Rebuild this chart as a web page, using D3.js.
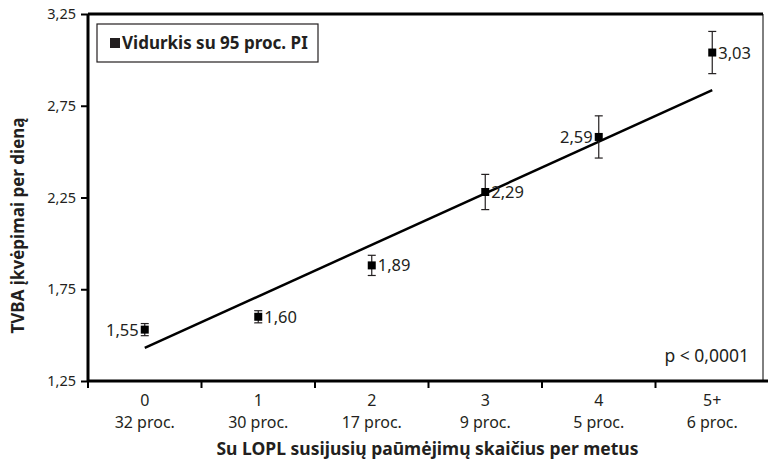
<!DOCTYPE html>
<html><head><meta charset="utf-8">
<script src="https://cdn.jsdelivr.net/npm/d3@7"></script>
<style>body{margin:0;background:#fff}svg{display:block}text{font-family:"Noto Sans",sans-serif;fill:#231f20}</style>
</head><body><svg id="c" width="768" height="466"></svg>
<script>
const categories = ["0","1","2","3","4","5+"];
const shares = ["32 proc.","30 proc.","17 proc.","9 proc.","5 proc.","6 proc."];
const means = [1.55,1.60,1.89,2.29,2.59,3.03];
const pointY = [1.53,1.60,1.88,2.28,2.58,3.04];
const errHalf = [0.033,0.033,0.055,0.096,0.115,0.115];
const labelSide = ["left","right","right","right","left","right"];
const trendLine = [{c:"0",v:1.43},{c:"5+",v:2.835}];
const yTicks = [1.25,1.75,2.25,2.75,3.25];

const svg = d3.select("#c");
const L=88, R=769, T=14, B=381;
const x = d3.scaleBand().domain(categories).range([L,R]);
const y = d3.scaleLinear().domain([1.25,3.25]).range([B,T]);
const cx = c => x(c)+x.bandwidth()/2;
const fmt = v => d3.format(".2f")(v).replace(".",",");

// frame
svg.append("line").attr("x1",L).attr("x2",763).attr("y1",T).attr("y2",T).attr("stroke","#000").attr("stroke-width",3);
svg.append("line").attr("x1",763).attr("x2",763).attr("y1",T).attr("y2",B).attr("stroke","#000").attr("stroke-width",1);

// y axis
const ya = svg.append("g").attr("transform",`translate(${L},0)`).call(d3.axisLeft(y).tickValues(yTicks).tickSize(7).tickPadding(5).tickFormat(fmt));
ya.select(".domain").attr("stroke-width",3).attr("d",`M0,${T}V${B}`);
ya.selectAll(".tick line").attr("stroke-width",2);
ya.selectAll("text").style("font-size","14.5px").style("font-family","'Noto Sans',sans-serif").attr("fill","#231f20");

// x axis
const xa = svg.append("g").attr("transform",`translate(0,${B})`);
xa.append("line").attr("x1",L-1).attr("x2",R).attr("y1",0).attr("y2",0).attr("stroke","#000").attr("stroke-width",3);
const edges = categories.map(c=>x(c));
xa.selectAll(".tk").data(edges).join("line").attr("x1",d=>d).attr("x2",d=>d).attr("y1",0).attr("y2",7).attr("stroke","#000").attr("stroke-width",2);
xa.selectAll(".cat").data(categories).join("text").attr("x",d=>cx(d)).attr("y",25).attr("text-anchor","middle").style("font-size","16px").text(d=>d);
xa.selectAll(".sh").data(shares).join("text").attr("x",(d,i)=>cx(categories[i])).attr("y",47).attr("text-anchor","middle").style("font-size","16px").text(d=>d);

// axis titles
svg.append("text").attr("x",(L+R)/2-1).attr("y",455).attr("text-anchor","middle").style("font-size","17.5px").style("font-weight","bold").text("Su LOPL susijusių paūmėjimų skaičius per metus");
svg.append("text").attr("transform",`translate(24,${(T+B)/2+28}) rotate(-90)`).attr("text-anchor","middle").style("font-size","17px").style("font-weight","bold").text("TVBA įkvėpimai per dieną");

// trend line
svg.append("line").attr("x1",cx(trendLine[0].c)).attr("y1",y(trendLine[0].v)).attr("x2",cx(trendLine[1].c)).attr("y2",y(trendLine[1].v)).attr("stroke","#000").attr("stroke-width",2.5);

// error bars & points
const g = svg.append("g");
categories.forEach((c,i)=>{
  const px=cx(c), lo=y(pointY[i]-errHalf[i]), hi=y(pointY[i]+errHalf[i]);
  g.append("line").attr("x1",px).attr("x2",px).attr("y1",lo).attr("y2",hi).attr("stroke","#231f20").attr("stroke-width",1.2);
  [lo,hi].forEach(v=>g.append("line").attr("x1",px-4).attr("x2",px+4).attr("y1",v).attr("y2",v).attr("stroke","#231f20").attr("stroke-width",1.2));
  g.append("rect").attr("x",px-4).attr("y",y(pointY[i])-4).attr("width",8).attr("height",8).attr("fill","#000");
  const left = labelSide[i]==="left";
  g.append("text").attr("x",left?px-6:px+6).attr("y",y(pointY[i])+6).attr("text-anchor",left?"end":"start").style("font-size","16.5px").text(fmt(means[i]));
});

// legend
svg.append("rect").attr("x",97).attr("y",24).attr("width",221).attr("height",38).attr("fill","#fff").attr("stroke","#231f20").attr("stroke-width",1.2);
svg.append("rect").attr("x",110).attr("y",38).attr("width",10).attr("height",10).attr("fill","#231f20");
svg.append("text").attr("x",122).attr("y",49).style("font-size","17px").style("font-weight","bold").text("Vidurkis su 95 proc. PI");

// p value
svg.append("text").attr("x",749).attr("y",362).attr("text-anchor","end").style("font-size","17.5px").text("p < 0,0001");
</script></body></html>
